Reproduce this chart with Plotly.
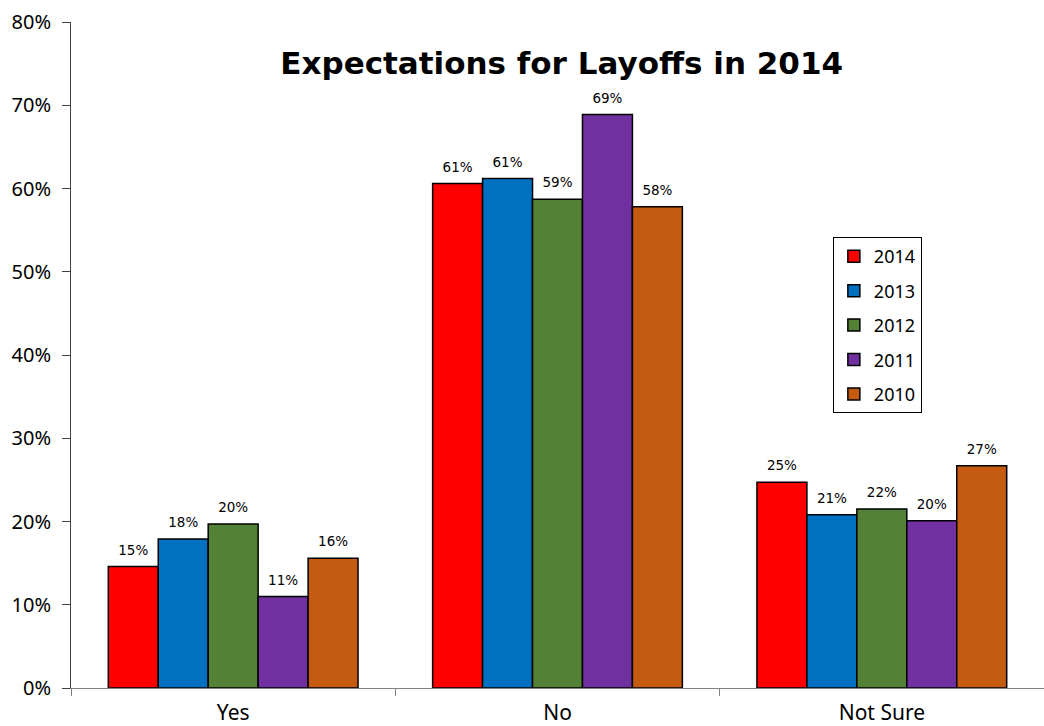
import plotly.graph_objects as go

categories = ["Yes", "No", "Not Sure"]
years = ["2014", "2013", "2012", "2011", "2010"]
colors = ["#FF0000", "#0070C0", "#538135", "#7030A0", "#C55A11"]

# Share of respondents (%) per answer, one list per survey year
v2014 = [14.6, 60.6, 24.7]
v2013 = [17.9, 61.2, 20.8]
v2012 = [19.7, 58.7, 21.5]
v2011 = [11.0, 68.9, 20.1]
v2010 = [15.6, 57.8, 26.7]
series = [v2014, v2013, v2012, v2011, v2010]

font_family = "DejaVu Sans"
tick_family = "Noto Sans"
gap = 0.23

fig = go.Figure()
for i, (year, vals, col) in enumerate(zip(years, series, colors)):
    fig.add_trace(go.Bar(
        name=year, x=categories, y=vals, offsetgroup=str(i),
        legendgroup=year,
        marker=dict(color=col, line=dict(color="black", width=1.5)),
    ))
# value labels floated a little above each bar (invisible marker sets the gap)
for i, (year, vals) in enumerate(zip(years, series)):
    fig.add_trace(go.Scatter(
        x=categories, y=vals, offsetgroup=str(i), mode="markers+text",
        text=[f"{v:.0f}%" for v in vals], textposition="top center",
        textfont=dict(size=13.5, color="black", family=font_family),
        marker=dict(size=12, opacity=0), showlegend=False, hoverinfo="skip",
        cliponaxis=False,
    ))

fig.update_layout(
    width=1044, height=726,
    margin=dict(l=71, r=0, t=22, b=38, autoexpand=False),
    paper_bgcolor="white", plot_bgcolor="white",
    barmode="group", bargap=gap, bargroupgap=0,
    scattermode="group", scattergap=gap,
    font=dict(family=font_family, color="black"),
    title=dict(text="<b>Expectations for Layoffs in 2014</b>",
               x=0.538, xanchor="center", y=0.913, yanchor="middle",
               font=dict(size=31, family=font_family, color="black")),
    showlegend=True,
    legend=dict(x=0.783, y=0.677, xanchor="left", yanchor="top",
                bordercolor="black", borderwidth=1, bgcolor="white",
                font=dict(size=18, family=tick_family, color="black"),
                traceorder="grouped", tracegroupgap=8,
                itemwidth=30),
)

fig.update_yaxes(
    range=[0, 80], dtick=10, ticksuffix="%",
    showgrid=False, zeroline=False, automargin=False,
    showline=True, linecolor="#404040", linewidth=1,
    ticks="outside", ticklen=8, tickcolor="#404040",
    ticklabelstandoff=7,
    tickfont=dict(size=20, family=tick_family, color="black"),
)
fig.update_xaxes(
    showgrid=False, showline=True, linecolor="#808080", linewidth=1,
    automargin=False,
    ticks="outside", tickson="boundaries", ticklen=7, tickcolor="#808080",
    ticklabelstandoff=6,
    tickfont=dict(size=21, family=tick_family, color="black"),
)

fig.write_html("out.html")
